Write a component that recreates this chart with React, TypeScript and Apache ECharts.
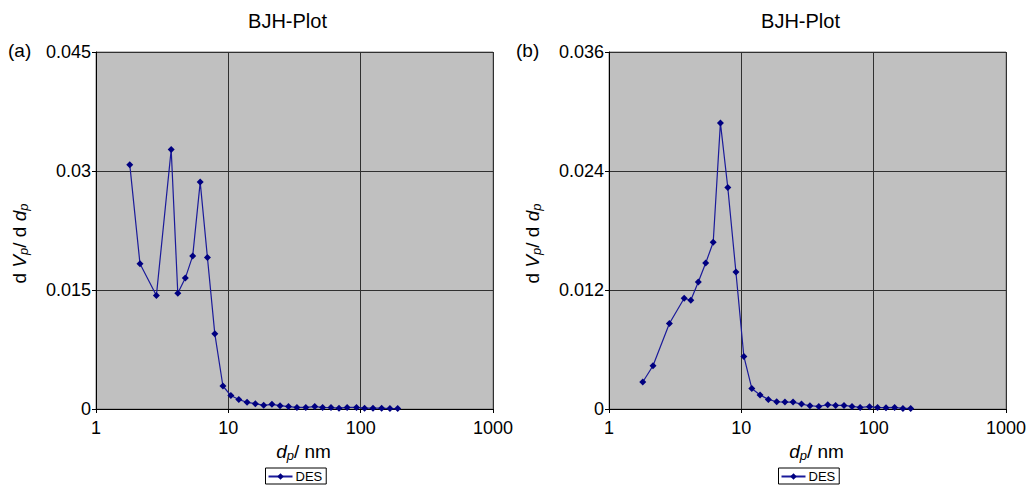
import React, { useEffect, useRef } from "react";
import * as echarts from "echarts";

const poreDiameter = [1.8, 2.15, 2.86, 3.7, 4.15, 4.73, 5.38, 6.13, 6.95, 7.9, 9.1, 10.45, 12.0, 13.85, 16.0, 18.5, 21.35, 24.6, 28.5, 33, 38.5, 45, 51.6, 59.7, 68.6, 79, 93, 107, 124, 144, 166.5, 190.5];
const desA = [0.0308, 0.0183, 0.0143, 0.0327, 0.0146, 0.0165, 0.0193, 0.0286, 0.0191, 0.0095, 0.0029, 0.0017, 0.0012, 0.00084, 0.00067, 0.00046, 0.00059, 0.00042, 0.0003, 0.0002, 0.0002, 0.0003, 0.0002, 0.00018, 0.0001, 0.0002, 0.0002, 0.0001, 0.0001, 0.0001, 0.00005, 0.00005];
const desB = [0.00272, 0.00436, 0.00862, 0.01117, 0.01097, 0.01281, 0.01472, 0.01681, 0.02885, 0.02234, 0.01382, 0.0053, 0.00207, 0.00141, 0.00097, 0.00073, 0.0007, 0.0007, 0.0005, 0.00033, 0.00026, 0.00043, 0.00036, 0.00036, 0.00026, 0.00016, 0.00023, 0.00016, 0.00013, 0.00016, 0.00006, 0.00006];
const yMaxA = 0.045;
const yStepA = 0.015;
const yMaxB = 0.036;
const yStepB = 0.012;
const titles = ["BJH-Plot", "BJH-Plot"];
const panelLabels = ["(a)", "(b)"];
const seriesName = "DES";

const FONT = "Liberation Sans, Arial, sans-serif";
const NAVY = "#000080";

export default function App() {
  const ref = useRef<HTMLDivElement>(null);
  useEffect(() => {
    if (!ref.current) return;
    const chart = echarts.init(ref.current, undefined, { renderer: "svg" });
    const gridLefts = [96, 609];
    const gridW = 397;
    const gridTop = 52;
    const gridH = 357;
    const yMaxes = [yMaxA, yMaxB];
    const ySteps = [yStepA, yStepB];
    const datas = [desA, desB];

    const rich = {
      n: { fontSize: 19, fontFamily: FONT, color: "#000" },
      i: { fontSize: 19, fontFamily: FONT, fontStyle: "italic", color: "#000" },
      s: { fontSize: 13, fontFamily: FONT, fontStyle: "italic", color: "#000", verticalAlign: "bottom", padding: [9, 0, 0, 0] },
    };

    const option: any = {
      animation: false,
      textStyle: { fontFamily: FONT },
      title: titles.map((t, k) => ({
        text: t,
        left: gridLefts[k] + gridW / 2 - 12,
        top: 6,
        textAlign: "center",
        textStyle: { fontSize: 20, fontWeight: "normal", fontFamily: FONT, color: "#000" },
      })),
      graphic: panelLabels.map((t, k) => ({
        type: "text",
        left: k === 0 ? 8 : 516,
        top: 41,
        style: { text: t, fontSize: 19, fontFamily: FONT, fill: "#000" },
      })),
      legend: [0, 1].map((k) => ({
        data: [seriesName],
        left: gridLefts[k] + gridW / 2 - 29,
        top: 468,
        borderColor: "#000",
        borderWidth: 1,
        padding: [2, 4, 1, 2],
        itemWidth: 24,
        itemHeight: 8,
        itemGap: 4,
        textStyle: { fontSize: 13, fontFamily: FONT, color: "#000", padding: [0, 0, 0, -2] },
      })),
      grid: [0, 1].map((k) => ({
        left: gridLefts[k],
        top: gridTop,
        width: gridW,
        height: gridH,
        show: true,
        backgroundColor: "#c0c0c0",
        borderColor: "#808080",
        borderWidth: 1,
      })),
      xAxis: [0, 1].map((k) => ({
        type: "log",
        logBase: 10,
        min: 1,
        max: 1000,
        gridIndex: k,
        name: "{i|d}{s|p}{n|/ nm}",
        nameLocation: "middle",
        nameGap: 30,
        nameTextStyle: { rich, padding: [0, 0, 0, 18] },
        axisLine: { show: true, lineStyle: { color: "#000", width: 1 } },
        axisTick: { show: true, length: 4, lineStyle: { color: "#000" } },
        axisLabel: {
          fontSize: 18,
          fontFamily: FONT,
          color: "#000",
          margin: 10,
          formatter: (v: number) => String(Math.round(v)),
        },
        splitLine: { show: true, lineStyle: { color: "#303030", width: 1 } },
        minorTick: { show: false },
      })),
      yAxis: [0, 1].map((k) => ({
        type: "value",
        min: 0,
        max: yMaxes[k],
        interval: ySteps[k],
        gridIndex: k,
        name: "{n|d }{i|V}{s|p}{n|/ d }{i|d}{s|p}",
        nameLocation: "middle",
        nameRotate: 90,
        nameGap: 66,
        nameTextStyle: { rich, padding: [0, 26, 0, 0] },
        axisLine: { show: true, lineStyle: { color: "#000", width: 1 } },
        axisTick: { show: true, length: 4, lineStyle: { color: "#000" } },
        axisLabel: { fontSize: 18, fontFamily: FONT, color: "#000", margin: 5 },
        splitLine: { show: true, lineStyle: { color: "#303030", width: 1 } },
      })),
      series: [0, 1].map((k) => ({
        name: seriesName,
        type: "line",
        xAxisIndex: k,
        yAxisIndex: k,
        data: poreDiameter.map((d, i) => [d, datas[k][i]]),
        symbol: "diamond",
        symbolSize: 7,
        showSymbol: true,
        lineStyle: { color: "#1a1a9a", width: 1.2 },
        itemStyle: { color: NAVY },
        clip: false,
      })),
    };
    chart.setOption(option);
    return () => chart.dispose();
  }, []);
  return (
    <div
      ref={ref}
      style={{ position: "fixed", left: 0, top: 0, width: 1035, height: 494, background: "#fff" }}
    />
  );
}
